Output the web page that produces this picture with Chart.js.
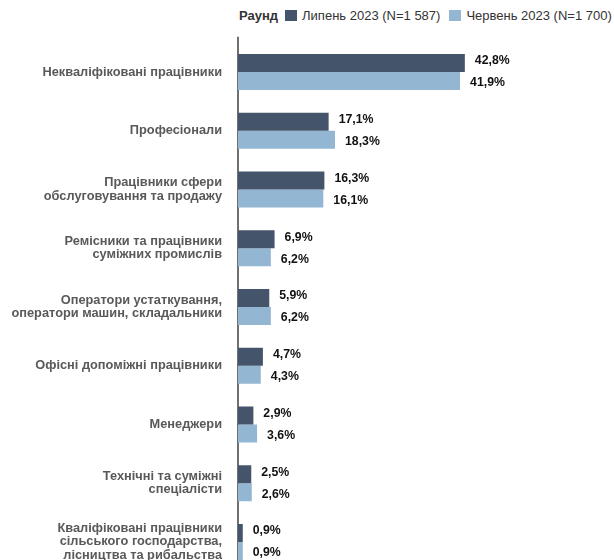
<!DOCTYPE html>
<html>
<head>
<meta charset="utf-8">
<script src="https://cdn.jsdelivr.net/npm/chart.js@4"></script>
<style>
    html, body { margin: 0; padding: 0; background: #fff; overflow: hidden; }
    #legend {
        position: absolute; left: 239px; top: 8px;
        font: 13px "Liberation Sans", Arial, sans-serif; color: #333;
        white-space: nowrap;
    }
    #legend b { margin-right: 7px; }
    #legend .box { display: inline-block; width: 12px; height: 11px; vertical-align: -1px; margin-right: 5px; }
    #legend .item { margin-right: 9px; }
    #wrap { position: absolute; left: 0; top: 0; width: 614px; height: 594px; }
</style>
</head>
<body>
<div id="legend"></div>
<div id="wrap"><canvas id="chart"></canvas></div>
<script>
let categories = [
    "Некваліфіковані працівники",
    "Професіонали",
    ["Працівники сфери", "обслуговування та продажу"],
    ["Ремісники та працівники", "суміжних промислів"],
    ["Оператори устаткування,", "оператори машин, складальники"],
    "Офісні допоміжні працівники",
    "Менеджери",
    ["Технічні та суміжні", "спеціалісти"],
    ["Кваліфіковані працівники", "сільського господарства,", "лісництва та рибальства"]
];
let julyValues = [42.8, 17.1, 16.3, 6.9, 5.9, 4.7, 2.9, 2.5, 0.9];
let juneValues = [41.9, 18.3, 16.1, 6.2, 6.2, 4.3, 3.6, 2.6, 0.9];
let seriesNames = ["Липень 2023 (N=1 587)", "Червень 2023 (N=1 700)"];
let seriesColors = ["#44546a", "#93b7d3"];
let legendTitle = "Раунд";

document.addEventListener("DOMContentLoaded", function() {
    // legend
    let legend = document.querySelector("#legend");
    let html = "<b>" + legendTitle + "</b>";
    seriesNames.forEach(function(name, i) {
        html += '<span class="item"><span class="box" style="background:' + seriesColors[i] + '"></span>' + name + '</span>';
    });
    legend.innerHTML = html;

    let fmt = function(v) {
        return v.toFixed(1).replace(".", ",") + "%";
    };

    // axis line + value labels
    let extras = {
        id: "extras",
        beforeDatasetsDraw: function(chart) {
            let ctx = chart.ctx, area = chart.chartArea;
            ctx.save();
            ctx.strokeStyle = "#404040";
            ctx.lineWidth = 1.5;
            ctx.beginPath();
            ctx.moveTo(area.left, area.top - 6);
            ctx.lineTo(area.left, area.bottom);
            ctx.stroke();
            ctx.restore();
        },
        afterDatasetsDraw: function(chart) {
            let ctx = chart.ctx;
            ctx.save();
            ctx.font = "bold 12.3px 'Liberation Sans', Arial, sans-serif";
            ctx.fillStyle = "#111";
            ctx.textAlign = "left";
            ctx.textBaseline = "middle";
            chart.data.datasets.forEach(function(ds, di) {
                chart.getDatasetMeta(di).data.forEach(function(bar, i) {
                    let dy = di === 0 ? -2 : 2;
                    ctx.fillText(fmt(ds.data[i]), bar.x + 10, bar.y + dy);
                });
            });
            ctx.restore();
        }
    };

    new Chart(document.querySelector("#chart").getContext("2d"), {
        type: "bar",
        data: {
            labels: categories,
            datasets: [{
                label: seriesNames[0],
                data: julyValues,
                backgroundColor: seriesColors[0]
            }, {
                label: seriesNames[1],
                data: juneValues,
                backgroundColor: seriesColors[1]
            }]
        },
        options: {
            indexAxis: "y",
            responsive: true,
            maintainAspectRatio: false,
            animation: false,
            layout: { padding: { top: 42.7, bottom: 9, right: 5, left: 0 } },
            datasets: { bar: { categoryPercentage: 0.613, barPercentage: 1 } },
            plugins: {
                legend: { display: false },
                tooltip: { enabled: false }
            },
            scales: {
                x: {
                    display: false,
                    min: 0,
                    max: 70
                },
                y: {
                    grid: { display: false, drawTicks: false },
                    border: { display: false },
                    ticks: {
                        color: "#595959",
                        padding: 16,
                        font: { family: "'Liberation Sans', Arial, sans-serif", size: 12.8, weight: "bold", lineHeight: 1.04 }
                    },
                    afterFit: function(scale) {
                        scale.width = 238;
                    }
                }
            }
        },
        plugins: [extras]
    });
});
</script>
</body>
</html>
